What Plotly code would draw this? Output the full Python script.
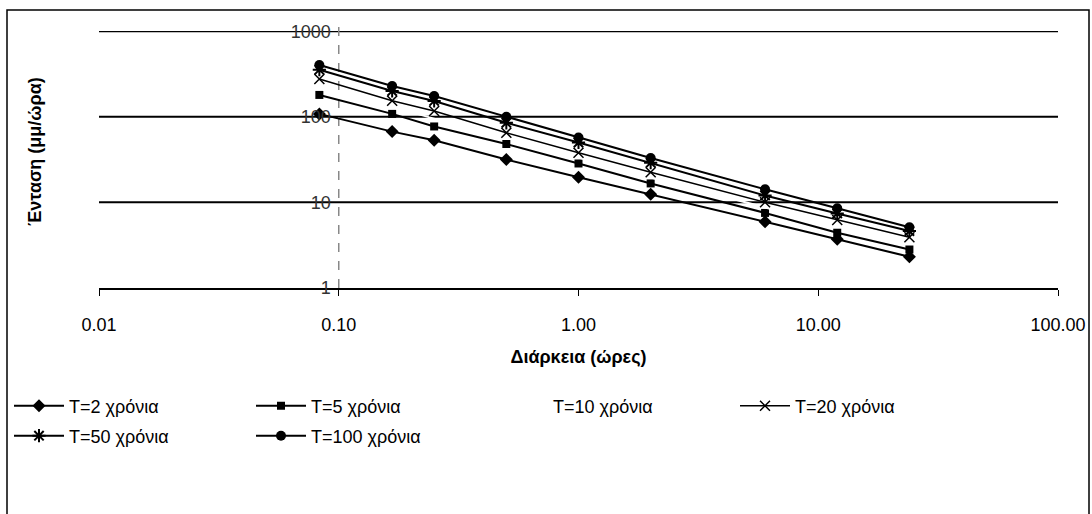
import plotly.graph_objects as go

durations = [0.083, 0.167, 0.25, 0.5, 1, 2, 6, 12, 24]
T2 = [108, 67, 53, 31.6, 19.6, 12.4, 5.9, 3.7, 2.3]
T5 = [180, 108, 77, 48, 28.4, 16.6, 7.5, 4.4, 2.8]
T10 = [225, 130, 95, 57, 33, 19.5, 8.7, 5.3, 3.3]
T20 = [277, 154, 117, 65, 38, 22.4, 10, 6.2, 3.9]
T50 = [355, 200, 153, 85, 50, 29, 12, 7.4, 4.6]
T100 = [403, 229, 175, 100, 57, 33, 14.2, 8.5, 5.1]

names = ["T=2 χρόνια", "T=5 χρόνια", "T=10 χρόνια", "T=20 χρόνια", "T=50 χρόνια", "T=100 χρόνια"]
xticks = [0.01, 0.1, 1, 10, 100]
xticklabels = ["0.01", "0.10", "1.00", "10.00", "100.00"]
yticks = [1, 10, 100, 1000]
yticklabels = ["1", "10", "100", "1000"]

FONT = "Liberation Sans, Arial, sans-serif"
FS = 18

styles = [
    dict(line=dict(color="black", width=2), marker=dict(symbol="diamond", size=10, color="black")),
    dict(line=dict(color="black", width=2), marker=dict(symbol="square", size=8, color="black")),
    dict(line=dict(color="white", width=2), marker=dict(size=1, color="white", opacity=0)),
    dict(line=dict(color="black", width=1.5), marker=dict(symbol="x-thin-open", size=10, color="black", line=dict(color="black", width=1.5))),
    dict(line=dict(color="black", width=2), marker=dict(symbol="asterisk-open", size=11, color="black", line=dict(color="black", width=2))),
    dict(line=dict(color="black", width=2), marker=dict(symbol="circle", size=10, color="black")),
]
legend_ids = ["legend", "legend", "legend", "legend", "legend2", "legend2"]

series = [T2, T5, T10, T20, T50, T100]

fig = go.Figure()
for name, vals, st, lg in zip(names, series, styles, legend_ids):
    mode = "lines" if name == "T=10 χρόνια" else "lines+markers"
    fig.add_trace(go.Scatter(x=durations, y=vals, name=name, mode=mode, legend=lg, **st))

W, H = 1092, 514
L, R, T, B = 99, 34, 31, 226
pw, ph = W - L - R, H - T - B

def px_x(p):
    return (p - L) / pw

def px_y(p):
    return (T + ph - p) / ph

leg_common = dict(
    orientation="h", xanchor="left", yanchor="middle",
    entrywidth=177, entrywidthmode="pixels", font=dict(size=FS, family=FONT),
    itemwidth=50, bgcolor="rgba(0,0,0,0)", x=px_x(9),
)

fig.update_layout(
    width=W, height=H,
    margin=dict(l=L, r=R, t=T, b=B, autoexpand=False),
    paper_bgcolor="white", plot_bgcolor="white",
    font=dict(family=FONT, size=FS, color="black"),
    showlegend=True,
    legend=dict(y=px_y(406), **leg_common),
    legend2=dict(y=px_y(436), **leg_common),
    xaxis=dict(
        type="log", range=[-2, 2], tickvals=xticks, ticktext=xticklabels,
        showgrid=False, zeroline=False, showline=True, linecolor="black", linewidth=2,
        ticks="outside", ticklen=6, tickcolor="black", tickwidth=1,
        ticklabelstandoff=13, automargin=False,
        title=dict(text="<b>Διάρκεια (ώρες)</b>", font=dict(size=FS), standoff=17),
        tickfont=dict(size=FS),
    ),
    yaxis=dict(
        type="log", range=[-0.003, 3.003], tickvals=yticks, ticktext=yticklabels,
        showgrid=False, zeroline=False, showline=False, automargin=False,
        anchor="free", position=0.25, ticks="", ticklabelstandoff=8,
        tickfont=dict(size=FS, color="#333333"),
    ),
)

# Horizontal gridlines at the major y ticks
for v in yticks[1:]:
    fig.add_shape(type="line", xref="paper", yref="y", x0=0, x1=1, y0=v, y1=v,
                  line=dict(color="black", width=2), layer="below")

# y axis line crossing at x = 0.1 (dashed grey as in the scan)
fig.add_shape(type="line", xref="x", yref="paper", x0=0.1, x1=0.1, y0=0, y1=1.02,
              line=dict(color="#888888", width=1.5, dash="dash"), layer="below")

# Border of the chart area
fig.add_shape(type="rect", xref="paper", yref="paper",
              x0=px_x(7), x1=px_x(1089), y0=px_y(520), y1=px_y(10),
              line=dict(color="black", width=1.5), fillcolor="rgba(0,0,0,0)", layer="below")

# Y axis title
fig.add_annotation(text="<b>Ένταση (μμ/ώρα)</b>", xref="paper", yref="paper",
                   x=px_x(35), y=px_y(152), textangle=-90, showarrow=False,
                   font=dict(size=FS, family=FONT), xanchor="center", yanchor="middle")

fig.write_html("out.html")
